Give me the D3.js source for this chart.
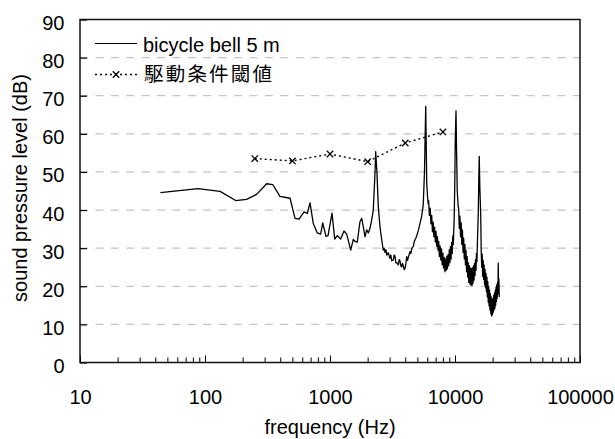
<!DOCTYPE html>
<html>
<head>
<meta charset="utf-8">
<script src="https://cdn.jsdelivr.net/npm/d3@7"></script>
<style>
  html, body { margin: 0; padding: 0; background: #fff; }
  svg { display: block; }
  text { font-family: "Liberation Sans", Arial, sans-serif; fill: #000; }
</style>
</head>
<body>
<svg id="chart" width="615" height="439"></svg>
<script>
// Spectrum of a bicycle bell recorded at 5 m (frequency in Hz, level in dB)
const bellFreq = [
  44, 88, 132, 176, 215, 259, 311, 348, 398, 479,
  525, 565, 620, 658, 692, 735, 791, 842, 874, 929,
  964, 1038, 1090, 1144, 1218, 1294, 1360, 1465, 1536, 1585,
  1653, 1738, 1793, 1847, 1905, 1965, 2025, 2089, 2156, 2220,
  2291, 2320, 2377, 2434, 2512, 2592, 2667, 2710, 2754, 2800,
  2841, 2926, 3020, 3070, 3118, 3210, 3260, 3311, 3360, 3417,
  3518, 3580, 3631, 3700, 3748, 3800, 3858, 3920, 3981, 4050,
  4108, 4170, 4229, 4300, 4365, 4430, 4505, 4570, 4638, 4700,
  4786, 4860, 4939, 5085, 5248, 5420, 5572, 5700, 5790, 5834,
  5880, 5943, 6030, 6109,
  6150, 6240, 6330, 6420, 6510, 6600, 6690, 6780, 6870, 6960,
  7050, 7140, 7230, 7320, 7410, 7500, 7600, 7700, 7800, 7900,
  8000, 8100, 8200, 8300, 8400, 8500, 8600, 8700, 8800, 8900,
  9000, 9100, 9200, 9300, 9400, 9500, 9600, 9700,
  9850, 9950, 10050, 10186, 10300, 10423, 10600,
  10700, 10820, 10950, 11080, 11210, 11340, 11470, 11600, 11730, 11860,
  11990, 12120, 12250, 12380, 12510, 12640, 12770, 12900, 13030, 13160,
  13290, 13420, 13550, 13680, 13810, 13940, 14070, 14200, 14330, 14460,
  14590, 14720, 14850, 14980, 15100,
  15346, 15500, 15631, 15800,
  16065, 16200, 16368, 16500, 16650, 16800, 16950, 17100, 17250, 17400,
  17550, 17700, 17850, 18000, 18150, 18300, 18450, 18600, 18750, 18900,
  19050, 19200, 19350, 19500, 19650, 19800, 19950, 20100, 20250, 20400,
  20550, 20700, 20850, 21000, 21150, 21300, 21450, 21600, 21750, 21900,
  22050, 22182, 22300, 22450, 22594
];
const bellLevel = [
  44.6, 45.6, 44.9, 42.5, 42.8, 44.1, 46.9, 46.7, 43.6, 43.1,
  37.8, 37.6, 39.5, 39.1, 41.9, 36.5, 34.0, 33.7, 36.6, 33.1,
  33.3, 39.2, 32.4, 33.3, 32.4, 34.5, 33.7, 29.5, 32.3, 31.8,
  31.6, 37.0, 37.8, 35.6, 33.0, 34.8, 34.0, 35.2, 37.4, 40.0,
  49.7, 55.3, 49.5, 40.9, 35.6, 32.2, 29.5, 30.0, 28.9, 29.6,
  28.2, 28.8, 27.3, 28.2, 26.7, 26.9, 28.2, 27.9, 26.2, 26.2,
  25.6, 27.0, 26.6, 25.2, 25.1, 26.0, 25.4, 24.4, 24.7, 26.0,
  27.8, 26.8, 27.5, 28.4, 29.1, 28.6, 29.8, 30.2, 30.4, 31.5,
  32.2, 32.6, 33.2, 34.6, 36.5, 38.5, 41.5, 50.0, 62.0, 67.2,
  58.0, 47.0, 43.5, 41.6,
  42.5, 38.6, 40.5, 36.4, 38.6, 34.3, 36.8, 33.0, 35.5, 31.6,
  34.4, 30.5, 33.0, 29.4, 31.8, 27.8, 30.6, 26.9, 29.8, 25.6,
  28.7, 24.8, 27.6, 23.8, 27.2, 24.2, 27.9, 24.6, 28.3, 25.4,
  29.6, 26.2, 30.4, 27.1, 31.5, 28.6, 33.2, 31.0,
  38.0, 46.0, 58.0, 66.0, 55.0, 45.0, 41.0,
  40.5, 35.2, 38.4, 33.0, 36.6, 31.0, 34.8, 28.9, 32.6, 27.2,
  31.0, 25.6, 29.4, 23.8, 27.8, 22.4, 26.2, 21.0, 25.4, 20.6,
  24.8, 20.4, 24.6, 20.2, 24.9, 20.8, 25.4, 21.6, 26.0, 22.8,
  27.0, 24.2, 28.6, 26.5, 31.0,
  39.0, 48.0, 54.1, 46.0,
  38.5, 29.5, 25.0, 28.4, 22.6, 26.8, 21.8, 25.6, 20.4, 24.4,
  19.6, 23.4, 18.6, 22.4, 17.2, 21.2, 15.8, 20.0, 14.8, 19.0,
  13.8, 18.0, 12.8, 17.2, 12.2, 16.4, 12.6, 16.8, 13.2, 17.6,
  13.8, 18.2, 14.2, 19.0, 15.0, 19.8, 16.0, 20.4, 16.8, 21.0,
  18.0, 26.1, 19.0, 22.0, 17.2
];

// Threshold of the drive condition at octave-band centres
const thresholdFreq = [250, 500, 1000, 2000, 4000, 8000];
const thresholdLevel = [53.5, 52.9, 54.7, 52.7, 57.6, 60.5];

// Axis ticks and labels
const xDecades = [10, 100, 1000, 10000, 100000];
const yTicks = [0, 10, 20, 30, 40, 50, 60, 70, 80, 90];
const yGrid = [10, 20, 30, 40, 50, 60, 70, 80];

const seriesNames = ["bicycle bell 5 m", "駆動条件閾値"];
const xTitle = "frequency (Hz)";
const yTitle = "sound pressure level (dB)";

const svg = d3.select("#chart");
const plot = { left: 80, right: 580, top: 19.5, bottom: 362.5 };

const x = d3.scaleLog().domain([10, 100000]).range([plot.left, plot.right]);
const y = d3.scaleLinear().domain([0, 90]).range([plot.bottom, plot.top]);

// Horizontal dashed grid
svg.append("g")
  .selectAll("line")
  .data(yGrid)
  .join("line")
  .attr("x1", plot.left).attr("x2", plot.right)
  .attr("y1", d => y(d)).attr("y2", d => y(d))
  .attr("stroke", "#c4c4c4")
  .attr("stroke-width", 1.2)
  .attr("stroke-dasharray", "8,7.4");

// Minor and major log ticks along the bottom, pointing inward
const xTickVals = [];
for (let dec = 10; dec < 100000; dec *= 10) {
  for (let m = 1; m < 10; m++) xTickVals.push(dec * m);
}
xTickVals.push(100000);
const isDecade = d => xDecades.includes(d);

const xAxis = svg.append("g")
  .attr("transform", `translate(0,${plot.bottom})`)
  .call(d3.axisBottom(x)
    .tickValues(xTickVals)
    .tickSizeInner(-5)
    .tickSizeOuter(0)
    .tickPadding(27)
    .tickFormat(d => isDecade(d) ? String(d) : ""));
xAxis.select(".domain").remove();
xAxis.selectAll(".tick line")
  .attr("stroke", "#000")
  .attr("y2", d => isDecade(d) ? -7 : -5);
xAxis.selectAll(".tick text")
  .style("font-size", "20px")
  .style("font-family", "'Liberation Sans', Arial, sans-serif");

// Left axis with inward ticks
const yAxis = svg.append("g")
  .attr("transform", `translate(${plot.left},0)`)
  .call(d3.axisLeft(y)
    .tickValues(yTicks)
    .tickSizeInner(-7)
    .tickSizeOuter(0)
    .tickPadding(15.5));
yAxis.select(".domain").remove();
yAxis.selectAll(".tick line").attr("stroke", "#000").attr("stroke-width", 1.2);
yAxis.selectAll(".tick text")
  .attr("dy", "0.5em")
  .style("font-size", "20px")
  .style("font-family", "'Liberation Sans', Arial, sans-serif");

// Plot frame
svg.append("rect")
  .attr("x", plot.left).attr("y", plot.top)
  .attr("width", plot.right - plot.left)
  .attr("height", plot.bottom - plot.top)
  .attr("fill", "none")
  .attr("stroke", "#111")
  .attr("stroke-width", 1.5);

// Bell spectrum
const bell = bellFreq.map((f, i) => [f, bellLevel[i]]);
svg.append("path")
  .datum(bell)
  .attr("fill", "none")
  .attr("stroke", "#000")
  .attr("stroke-width", 1.3)
  .attr("stroke-linejoin", "round")
  .attr("d", d3.line().x(d => x(d[0])).y(d => y(d[1])));

// Threshold series: dotted line with × markers
const thr = thresholdFreq.map((f, i) => [f, thresholdLevel[i]]);
svg.append("path")
  .datum(thr)
  .attr("fill", "none")
  .attr("stroke", "#000")
  .attr("stroke-width", 1.4)
  .attr("stroke-dasharray", "2,3")
  .attr("d", d3.line().x(d => x(d[0])).y(d => y(d[1])));

const cross = "M-3.2,-3.2L3.2,3.2M-3.2,3.2L3.2,-3.2";
svg.append("g")
  .selectAll("path")
  .data(thr)
  .join("path")
  .attr("transform", d => `translate(${x(d[0])},${y(d[1])})`)
  .attr("d", cross)
  .attr("fill", "none")
  .attr("stroke", "#000")
  .attr("stroke-width", 1.3);

// Legend
const legend = svg.append("g");
legend.append("line")
  .attr("x1", 95).attr("x2", 137).attr("y1", 43.5).attr("y2", 43.5)
  .attr("stroke", "#000").attr("stroke-width", 1.2);
legend.append("text")
  .attr("x", 143).attr("y", 51.5)
  .style("font-size", "20px")
  .text(seriesNames[0]);

legend.append("line")
  .attr("x1", 95).attr("x2", 137).attr("y1", 74.5).attr("y2", 74.5)
  .attr("stroke", "#000").attr("stroke-width", 1.4)
  .attr("stroke-dasharray", "2,3");
legend.append("path")
  .attr("transform", "translate(116,74.5)")
  .attr("d", cross)
  .attr("fill", "none").attr("stroke", "#000").attr("stroke-width", 1.3);
legend.append("text")
  .attr("x", 144).attr("y", 81)
  .style("font-size", "19.5px")
  .style("letter-spacing", "2.2px")
  .style("font-family", "'Noto Sans CJK JP', sans-serif")
  .text(seriesNames[1]);

// Axis titles
svg.append("text")
  .attr("x", (plot.left + plot.right) / 2)
  .attr("y", 434)
  .attr("text-anchor", "middle")
  .style("font-size", "20px")
  .text(xTitle);

svg.append("text")
  .attr("transform", "translate(27,188) rotate(-90)")
  .attr("text-anchor", "middle")
  .style("font-size", "20px")
  .text(yTitle);
</script>
</body>
</html>
